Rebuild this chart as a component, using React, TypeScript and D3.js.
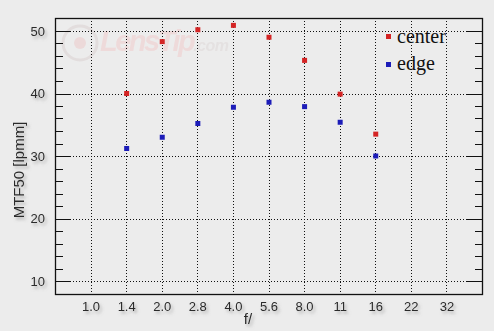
import React from "react";
import * as d3 from "d3";

const categories = ["1.0", "1.4", "2.0", "2.8", "4.0", "5.6", "8.0", "11", "16", "22", "32"];
const centerSeries = [
  { f: "1.4", v: 40.0 },
  { f: "2.0", v: 48.3 },
  { f: "2.8", v: 50.2 },
  { f: "4.0", v: 50.9 },
  { f: "5.6", v: 49.0 },
  { f: "8.0", v: 45.3 },
  { f: "11", v: 39.9 },
  { f: "16", v: 33.5 },
];
const edgeSeries = [
  { f: "1.4", v: 31.2 },
  { f: "2.0", v: 33.0 },
  { f: "2.8", v: 35.2 },
  { f: "4.0", v: 37.8 },
  { f: "5.6", v: 38.6 },
  { f: "8.0", v: 37.9 },
  { f: "11", v: 35.4 },
  { f: "16", v: 30.0 },
];
const yMajorTicks = [10, 20, 30, 40, 50];
const yMinorTicks = [12, 14, 16, 18, 22, 24, 26, 28, 32, 34, 36, 38, 42, 44, 46, 48, 52];

const W = 494;
const H = 331;
const L = 55, R = 482, T = 18, B = 294;

export default function App() {
  const x = d3.scalePoint<string>().domain(categories).range([L, R]).padding(1);
  const y = d3.scaleLinear().domain([7.92, 52.08]).range([B, T]);
  const sq = 5;
  const cRed = "#d42424";
  const cBlue = "#1c1cb8";
  const labelFont = "'Liberation Sans', Arial, sans-serif";
  return (
    <svg width={W} height={H} style={{ position: "absolute", left: 0, top: 0 }} xmlns="http://www.w3.org/2000/svg">
      <defs>
        <filter id="sh" x="-30%" y="-30%" width="160%" height="160%">
          <feDropShadow dx="2" dy="2.5" stdDeviation="1.6" floodColor="#7a7a7a" floodOpacity="0.55" />
        </filter>
      </defs>
      <rect x={0} y={0} width={W} height={H} fill="#ececec" />
      {/* watermark */}
      <g opacity={0.9}>
        <circle cx={80} cy={43} r={17} fill="none" stroke="#e2dcdc" strokeWidth={3} />
        <circle cx={80} cy={43} r={6} fill="#ecd8d8" />
        <text x={100} y={51} fontFamily={labelFont} fontStyle="italic" fontWeight="bold" fontSize={29} fill="#efd9d9" letterSpacing={-2.5}>
          LensTip<tspan fontSize={16} fill="#e4e0e0" letterSpacing={-0.5}>.com</tspan>
        </text>
      </g>
      {/* grid */}
      <g stroke="#111" strokeWidth={1} strokeDasharray="1,2">
        {yMajorTicks.map((t) => (
          <line key={"gy" + t} x1={L} x2={R} y1={Math.round(y(t)) + 0.5} y2={Math.round(y(t)) + 0.5} />
        ))}
        {categories.map((c) => (
          <line key={"gx" + c} x1={Math.round(x(c)!) + 0.5} x2={Math.round(x(c)!) + 0.5} y1={T} y2={B} />
        ))}
      </g>
      {/* ticks */}
      <g stroke="#111" strokeWidth={1}>
        {yMajorTicks.map((t) => {
          const yy = Math.round(y(t)) + 0.5;
          return (
            <g key={"t" + t}>
              <line x1={L} x2={L + 15} y1={yy} y2={yy} />
              <line x1={R - 15} x2={R} y1={yy} y2={yy} />
            </g>
          );
        })}
        {yMinorTicks.filter((t) => y(t) > T + 1).map((t) => {
          const yy = Math.round(y(t)) + 0.5;
          return (
            <g key={"m" + t}>
              <line x1={L} x2={L + 8} y1={yy} y2={yy} />
              <line x1={R - 7} x2={R} y1={yy} y2={yy} />
            </g>
          );
        })}
      </g>
      <rect x={L + 0.5} y={T + 0.5} width={R - L} height={B - T} fill="none" stroke="#111" strokeWidth={1.3} />
      {/* points */}
      {centerSeries.map((d) => (
        <rect key={"c" + d.f} x={x(d.f)! - sq / 2 + 0.5} y={y(d.v) - sq / 2} width={sq} height={sq} fill={cRed} />
      ))}
      {edgeSeries.map((d) => (
        <rect key={"e" + d.f} x={x(d.f)! - sq / 2 + 0.5} y={y(d.v) - sq / 2} width={sq} height={sq} fill={cBlue} />
      ))}
      {/* legend */}
      <rect x={386} y={34} width={5} height={5} fill={cRed} />
      <text x={397} y={43} fontFamily="'Liberation Serif', 'Times New Roman', serif" fontSize={20} fill="#111">center</text>
      <rect x={386} y={62} width={5} height={5} fill={cBlue} />
      <text x={397} y={70} fontFamily="'Liberation Serif', 'Times New Roman', serif" fontSize={20} fill="#111">edge</text>
      {/* axis labels */}
      <g fontFamily={labelFont} fill="#2a2a2a" filter="url(#sh)">
        {yMajorTicks.map((t) => (
          <text key={"yl" + t} x={45} y={y(t) + 4.5} textAnchor="end" fontSize={13}>{t}</text>
        ))}
        {categories.map((c) => (
          <text key={"xl" + c} x={x(c)! + 0.5} y={311} textAnchor="middle" fontSize={13}>{c}</text>
        ))}
        <text x={248} y={324} textAnchor="middle" fontSize={15}>f/</text>
        <text transform={`translate(24,${(T + B) / 2 + 14}) rotate(-90)`} textAnchor="middle" fontSize={15}>MTF50 [lpmm]</text>
      </g>
    </svg>
  );
}
